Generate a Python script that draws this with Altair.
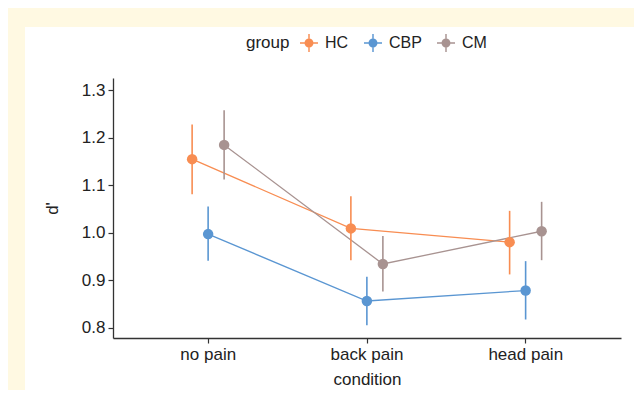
import altair as alt
import pandas as pd

conditions = ["no pain", "back pain", "head pain"]
groups = ["HC", "CBP", "CM"]
colors = ["#F88D52", "#5A96D2", "#A89391"]

hc_mean = [1.155, 1.009, 0.980]
hc_lo = [1.081, 0.942, 0.912]
hc_hi = [1.228, 1.077, 1.046]

cbp_mean = [0.997, 0.856, 0.878]
cbp_lo = [0.941, 0.805, 0.817]
cbp_hi = [1.055, 0.907, 0.940]

cm_mean = [1.185, 0.934, 1.003]
cm_lo = [1.112, 0.876, 0.942]
cm_hi = [1.258, 0.993, 1.065]

rows = []
for g, m, lo, hi in [("HC", hc_mean, hc_lo, hc_hi),
                     ("CBP", cbp_mean, cbp_lo, cbp_hi),
                     ("CM", cm_mean, cm_lo, cm_hi)]:
    for c, mv, lv, hv in zip(conditions, m, lo, hi):
        rows.append({"condition": c, "group": g, "d": mv, "lo": lv, "hi": hv})
df = pd.DataFrame(rows)

FONT = "Liberation Sans"
CREAM = "#FFF9E2"

xaxis = alt.Axis(title="condition", labelAngle=0, labelFontSize=17, titleFontSize=17,
                 titleFontWeight="normal", labelPadding=3, titlePadding=9,
                 ticks=True, tickSize=5, domainColor="#333333", tickColor="#333333",
                 domainWidth=1.3, tickWidth=1.2, labelColor="#222222",
                 titleColor="#222222", grid=False, zindex=2)
xenc = alt.X("condition:N", sort=conditions,
             scale=alt.Scale(type="band", domain=conditions, paddingInner=0, paddingOuter=0.1),
             axis=xaxis)
xoff = alt.XOffset("group:N", sort=groups,
                   scale=alt.Scale(domain=groups, paddingInner=0, paddingOuter=0,
                                   range=[55.25, 103.25]))
yscale = alt.Scale(domain=[0.778, 1.326], nice=False, zero=False)
yaxis = alt.Axis(title="d'", values=[0.8, 0.9, 1.0, 1.1, 1.2, 1.3], format=".1f",
                 labelFontSize=17, titleFontSize=17, titleFontWeight="normal",
                 labelPadding=3, titlePadding=20, ticks=True, tickSize=5,
                 domainColor="#333333", tickColor="#333333", domainWidth=1.3,
                 tickWidth=1.2, labelColor="#222222", titleColor="#222222",
                 grid=False, zindex=2)
yenc = alt.Y("d:Q", scale=yscale, axis=yaxis)
cscale = alt.Scale(domain=groups, range=colors)

sym = ("M-1,-0.08H1V0.08H-1Z M-0.08,-1H0.08V1H-0.08Z "
       "M0.5,0A0.5,0.5,0,1,1,-0.5,0A0.5,0.5,0,1,1,0.5,0Z")

legend = alt.Legend(title="group", orient="none", direction="horizontal",
                    legendX=133, legendY=-44, titleOrient="left", titleFontSize=17,
                    titleFontWeight="normal", labelFontSize=16, symbolType=sym,
                    symbolSize=324, symbolStrokeWidth=0, columnPadding=15,
                    labelOffset=7, titlePadding=10, titleColor="#222222",
                    labelColor="#222222", zindex=2)
cenc = alt.Color("group:N", sort=groups, scale=cscale, legend=legend)

panel = alt.Chart(alt.Data(values=[{"a": 1}])).mark_rect(color="white").encode(
    x=alt.value(-88), x2=alt.value(530), y=alt.value(-51), y2=alt.value(330)
)

base = alt.Chart(df)

lines = base.mark_line(strokeWidth=1.3).encode(
    x=xenc, xOffset=xoff, y=yenc, color=cenc, detail="group:N",
)
bars = base.mark_rule(strokeWidth=1.6).encode(
    x=xenc, xOffset=xoff, y=alt.Y("lo:Q", scale=yscale, axis=yaxis), y2="hi:Q",
    color=cenc,
)
pts = base.mark_circle(size=110, opacity=1).encode(
    x=xenc, xOffset=xoff, y=yenc, color=cenc,
)

chart = alt.layer(panel, lines, bars, pts).properties(
    width=508, height=260,
    autosize=alt.AutoSizeParams(type="none"),
    padding={"left": 105, "top": 70, "right": 13, "bottom": 52},
    background=CREAM,
).configure_view(stroke=None).configure(font=FONT)

chart.save("out.html", embed_options={"renderer": "svg", "actions": False})
